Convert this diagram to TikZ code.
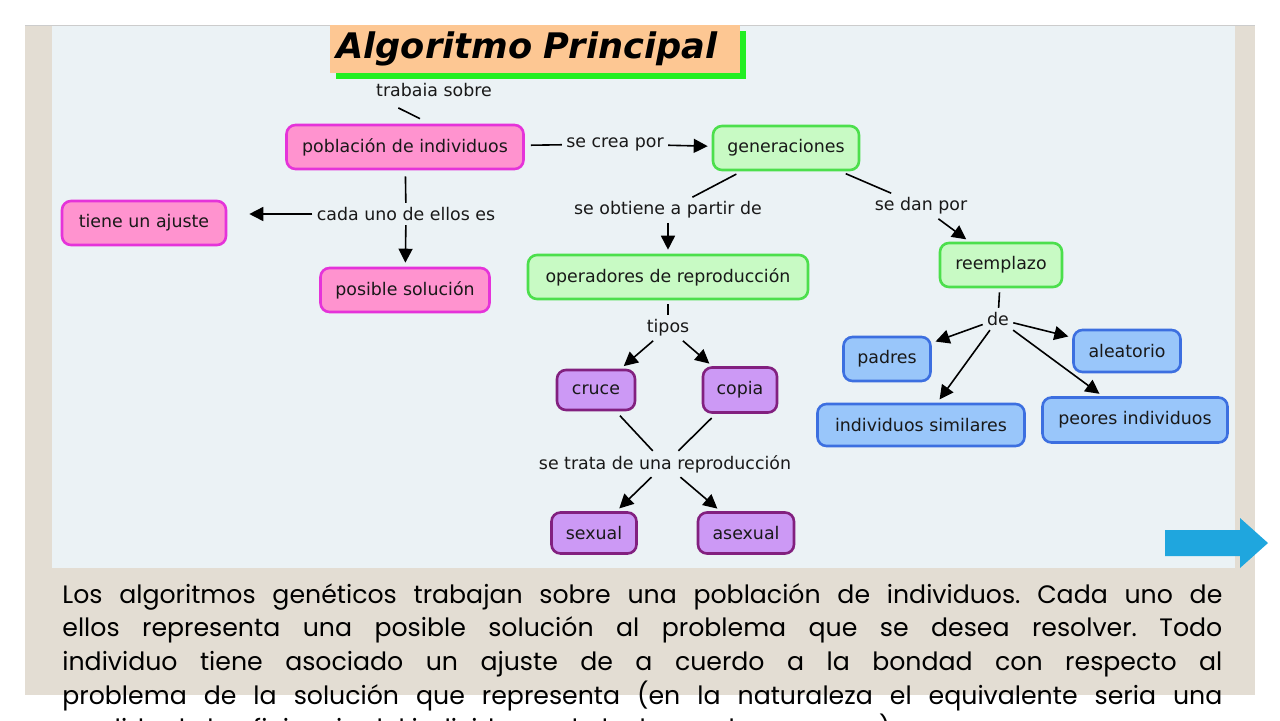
\documentclass[tikz,border=0pt]{standalone}
\usepackage{fontspec}
\setmainfont{DejaVu Sans}
\newfontfamily\gothic{Poppins}
\usepackage{xcolor}
\usetikzlibrary{arrows.meta,shadows}
\definecolor{marco}{HTML}{E3DDD3}
\definecolor{fondo}{HTML}{EBF2F5}
\definecolor{titulo}{HTML}{FDC793}
\definecolor{sombra}{HTML}{22EE22}
\definecolor{rosa}{HTML}{FF93CF}
\definecolor{rosab}{HTML}{E533D9}
\definecolor{verde}{HTML}{C8FAC4}
\definecolor{verdeb}{HTML}{4CDF4C}
\definecolor{lila}{HTML}{CC99F5}
\definecolor{lilab}{HTML}{82207F}
\definecolor{azul}{HTML}{99C6FA}
\definecolor{azulb}{HTML}{3C6FE0}
\definecolor{flecha}{HTML}{1FA6DE}
\def\cm{\fontsize{8.7}{10}\selectfont}
\def\tri{-{Triangle[length=7pt,width=7pt]}}

\begin{document}
\begin{tikzpicture}[x=0.5pt,y=-0.5pt,
  concept/.style={rounded corners=4.5pt, line width=1.3pt, minimum height=22pt, text=black!90, font=\cm},
  rs/.style={concept, fill=rosa, draw=rosab},
  vd/.style={concept, fill=verde, draw=verdeb},
  lil/.style={concept, fill=lila, draw=lilab},
  az/.style={concept, fill=azul, draw=azulb},
  lk/.style={font=\cm, inner sep=2pt, text=black!90},
  ln/.style={line width=0.8pt, black, shorten <=2pt},
  ar/.style={line width=0.8pt, black, \tri, shorten >=2pt}]
\useasboundingbox (0,0) rectangle (1280,720);

% slide background
\fill[marco] (25,25) rectangle (1255,695);
\fill[fondo] (52,25) rectangle (1235,568);
\draw[black!20, line width=0.4pt] (25,25) -- (1255,25);

% title
\node[fill=titulo, anchor=north west, minimum width=205pt, minimum height=23.5pt, text width=199pt, align=left,
      inner xsep=3pt, font=\bfseries\itshape\fontsize{17.6}{18}\selectfont,
      drop shadow={shadow xshift=3pt, shadow yshift=-3pt, fill=sombra, opacity=1}] (ttl) at (330,25) {Algoritmo Principal};

% concepts
\node[rs, minimum width=118.5pt] (pob) at (405,147) {población de individuos};
\node[rs, minimum width=82pt] (tiene) at (144,223) {tiene un ajuste};
\node[rs, minimum width=84.5pt] (sol) at (405,290) {posible solución};
\node[vd, minimum width=73pt] (gen) at (786,148) {generaciones};
\node[vd, minimum width=140pt] (ops) at (668,277) {operadores de reproducción};
\node[vd, minimum width=61pt] (reem) at (1001,265) {reemplazo};
\node[lil, minimum width=39pt, minimum height=20pt] (cruce) at (596,390) {cruce};
\node[lil, minimum width=37pt, minimum height=22.5pt] (copia) at (740,390) {copia};
\node[lil, minimum width=42.5pt, minimum height=20.5pt] (sex) at (594,533) {sexual};
\node[lil, minimum width=48pt, minimum height=20.5pt] (asex) at (746,533) {asexual};
\node[az, minimum width=43.5pt] (padres) at (887,359) {padres};
\node[az, minimum width=53.5pt, minimum height=21pt] (alea) at (1127,351) {aleatorio};
\node[az, minimum width=103.5pt, minimum height=21pt] (simil) at (921,425) {individuos similares};
\node[az, minimum width=92.5pt, minimum height=22.5pt] (peores) at (1135,420) {peores individuos};

% linking phrases
\node[lk] (trab) at (434,90) {trabaia sobre};
\node[lk] (crea) at (615,144) {se crea por};
\node[lk] (cada) at (406,214) {cada uno de ellos es};
\node[lk] (obt) at (668,210) {se obtiene a partir de};
\node[lk] (dan) at (921,206) {se dan por};
\node[lk] (tipos) at (668,328) {tipos};
\node[lk] (trata) at (665,464) {se trata de una reproducción};
\node[lk] (de) at (998,319) {de};

% links
\draw[ln] ([shift={(23,5)}]trab.south west) -- ([shift={(15,-5)}]pob.north);
\draw[ln, shorten <=3pt] (pob) -- (crea); \draw[ar] (crea) -- (gen);
\draw[ln, shorten <=3pt] (pob) -- (cada);
\draw[ar, shorten >=11pt] (cada.west) -- (cada.west -| tiene.east); \draw[ar] (cada) -- (sol); % <- end poblacion
\draw[ln, shorten <=3pt] (gen) -- (obt); \draw[ar] (obt) -- (ops);
\draw[ln, shorten <=3pt] (gen) -- (dan); \draw[ar] (dan) -- (reem);
\draw[ln] (ops) -- (tipos);
\draw[ar] (tipos) -- (cruce); \draw[ar] (tipos) -- (copia);
\draw[ln, shorten <=3pt] (cruce) -- (trata); \draw[ln, shorten <=3pt] (copia) -- (trata);
\draw[ar] (trata) -- (sex); \draw[ar] (trata) -- (asex); % <- end operadores
\draw[ln] (reem) -- (de);
\draw[ar] (de) -- (padres); \draw[ar] (de) -- (alea);
\draw[ar] (de) -- (simil); \draw[ar] (de) -- (peores); % <- end reemplazo

% next arrow
\fill[flecha] (1165,530) -- (1240,530) -- (1240,518) -- (1268,543) -- (1240,568) -- (1240,556) -- (1165,556) -- cycle;

% text
\node[anchor=base west, inner sep=0, text=black, font=\gothic\fontsize{12.6}{16.85}\selectfont\frenchspacing] (txt) at (62,603) {\parbox[t]{580pt}{%
\makebox[580pt][s]{Los algoritmos genéticos trabajan sobre una población de individuos. Cada uno de}\\
\makebox[580pt][s]{ellos representa una posible solución al problema que se desea resolver. Todo}\\
\makebox[580pt][s]{individuo tiene asociado un ajuste de a cuerdo a la bondad con respecto al}\\
\makebox[580pt][s]{problema de la solución que representa (en la naturaleza el equivalente seria una}\\
medida de la eficiencia del individuo en la lucha por los recursos)}};
\end{tikzpicture}
\end{document}
